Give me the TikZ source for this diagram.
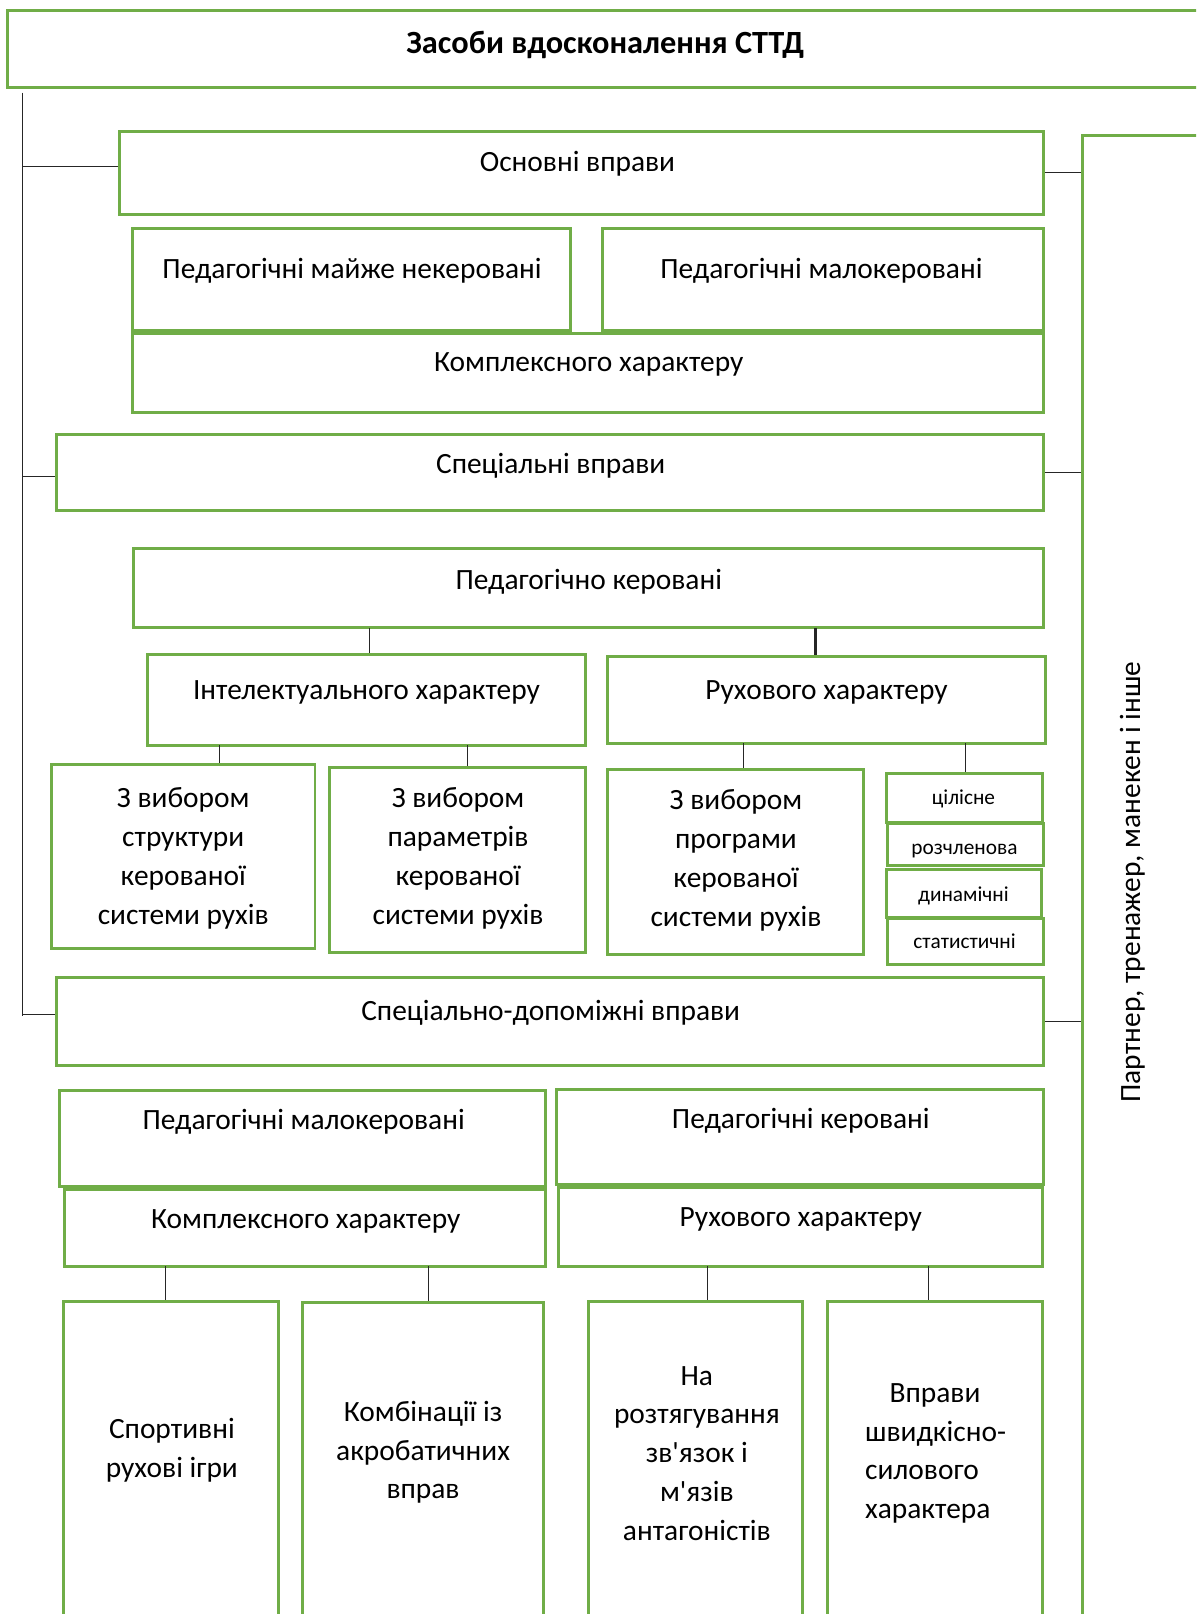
\documentclass[tikz,border=0pt]{standalone}
\usepackage{fontspec}
\setmainfont{Carlito}
\usetikzlibrary{fit}
\definecolor{grn}{HTML}{70AD47}

\begin{document}
\begin{tikzpicture}[x=0.42pt, y=-0.42pt,
    box/.style={draw=grn, line width=1.2pt, inner sep=0pt},
    txt/.style={font=\fontsize{12}{15.8}\selectfont, align=center, inner sep=0pt, yshift=-0.8pt},
    small/.style={font=\fontsize{8.7}{10}\selectfont, inner sep=0pt, yshift=-0.6pt},
    link/.style={draw=black!85, line width=0.45pt}]

      \useasboundingbox (0,0) rectangle (1162,1568);
      \clip (0,0) rectangle (1162,1568);

      % title and right column
      \node[box, fit={(7,10) (1185,85)}] (title) {};
      \node[txt, font=\fontsize{13.2}{16}\selectfont\bfseries] (title-t) at (588,42) {Засоби вдосконалення СТТД};
      \node[box, fit={(1052,132) (1200,1600)}] (prt) {};
      \node[txt, rotate=90] (prt-t) at (1100,855) {Партнер, тренажер, манекен і інше};

      % basic exercises
      \node[box, fit={(116,128) (1014,208)}] (osn) {};
      \node[txt] (osn-t) at (561,157) {Основні вправи};
      \node[box, fit={(129,222) (554,321)}] (pmn) {};
      \node[txt] (pmn-t) at (342,261) {Педагогічні майже некеровані};
      \node[box, fit={(585,222) (1014,321)}] (pmk) {};
      \node[txt] (pmk-t) at (798,261) {Педагогічні малокеровані};
      \node[box, fit={(129,324) (1014,401)}] (kom1) {};
      \node[txt] (kom1-t) at (572,352) {Комплексного характеру};

      % special exercises
      \node[box, fit={(55,422) (1014,496)}] (spec) {};
      \node[txt] (spec-t) at (535,451) {Спеціальні вправи};
      \node[box, fit={(130,533) (1014,610)}] (pk) {};
      \node[txt] (pk-t) at (572,563) {Педагогічно керовані};
      \node[box, fit={(143,636) (569,724)}] (int) {};
      \node[txt] (int-t) at (356,671) {Інтелектуального характеру};
      \node[box, fit={(590,638) (1016,722)}] (ruh) {};
      \node[txt] (ruh-t) at (803,671) {Рухового характеру};

      \node[box, fit={(50,743) (306,921)}] (vyb1) {};
      \node[txt] (vyb1-t) at (178,832) {З вибором\\структури\\керованої\\системи рухів};
      \node[box, fit={(320,746) (569,925)}] (vyb2) {};
      \node[txt] (vyb2-t) at (445,832) {З вибором\\параметрів\\керованої\\системи рухів};
      \node[box, fit={(590,748) (839,927)}] (vyb3) {};
      \node[txt] (vyb3-t) at (715,834) {З вибором\\програми\\керованої\\системи рухів};

      \node[box, fit={(861,751) (1013,799)}] (cil) {};
      \node[small] (cil-t) at (936,775) {цілісне};
      \node[box, fit={(862,800) (1014,841)}] (roz) {};
      \node[small] (roz-t) at (937,825) {розчленова};
      \node[box, fit={(861,845) (1012,891)}] (dyn) {};
      \node[small] (dyn-t) at (936,869) {динамічні};
      \node[box, fit={(862,892) (1014,937)}] (stat) {};
      \node[small] (stat-t) at (937,913) {статистичні};

      % special auxiliary exercises
      \node[box, fit={(55,950) (1014,1035)}] (sdv) {};
      \node[txt] (sdv-t) at (535,982) {Спеціально-допоміжні вправи};
      \node[box, fit={(58,1059) (530,1153)}] (pmk2) {};
      \node[txt] (pmk2-t) at (295,1088) {Педагогічні малокеровані};
      \node[box, fit={(541,1058) (1014,1151)}] (pk2) {};
      \node[txt] (pk2-t) at (778,1087) {Педагогічні керовані};
      \node[box, fit={(63,1156) (530,1230)}] (kom2) {};
      \node[txt] (kom2-t) at (297,1185) {Комплексного характеру};
      \node[box, fit={(543,1154) (1013,1230)}] (ruh2) {};
      \node[txt] (ruh2-t) at (778,1183) {Рухового характеру};

      \node[box, fit={(62,1264) (271,1600)}] (sport) {};
      \node[txt] (sport-t) at (167,1407) {Спортивні\\рухові ігри};
      \node[box, fit={(294,1265) (528,1600)}] (komb) {};
      \node[txt] (komb-t) at (411,1409) {Комбінації із\\акробатичних\\вправ};
      \node[box, fit={(572,1264) (780,1600)}] (rozt) {};
      \node[txt] (rozt-t) at (677,1410) {На\\розтягування\\зв\textquotesingle язок і\\м\textquotesingle язів\\антагоністів};
      \node[box, fit={(804,1264) (1013,1600)}] (shv) {};
      \node[txt, align=left, anchor=west] (shv-t) at (840,1410) {\hspace*{10pt}Вправи\\швидкісно-\\силового\\характера};

      % connectors
      \coordinate (trk-top) at (22,90);
      \coordinate (trk-bot) at (22,987);
      \draw[link] (trk-top) -- (trk-bot);
      \draw[link] ([yshift=2.5pt]trk-top |- osn.west) -- ([yshift=2.5pt]osn.west);
      \draw[link] ([yshift=-1.7pt]trk-top |- spec.west) -- ([yshift=-1.7pt]spec.west);
      \draw[link] ([yshift=3pt]trk-top |- sdv.west) -- ([yshift=3pt]sdv.west);

      \draw[link] (osn.east) -- (osn.east -| prt.west);
      \draw[link] (spec.east) -- (spec.east -| prt.west);
      \draw[link] (sdv.east) -- (sdv.east -| prt.west);

      \coordinate (j1) at (359,610);
      \coordinate (j2) at (792,610);
      \coordinate (j3) at (213,724);
      \coordinate (j4) at (454,724);
      \coordinate (j5) at (722,722);
      \coordinate (j6) at (938,722);
      \draw[link] (j1) -- (j1 |- int.north);
      \draw[link, line width=1.3pt] (j2) -- (j2 |- ruh.north);
      \draw[link] (j3) -- (j3 |- vyb1.north);
      \draw[link] (j4) -- (j4 |- vyb2.north);
      \draw[link] (j5) -- (j5 |- vyb3.north);
      \draw[link] (j6) -- (j6 |- cil.north);

      \coordinate (k1) at (161,1230);
      \coordinate (k2) at (416,1230);
      \coordinate (k3) at (687,1230);
      \coordinate (k4) at (902,1230);
      \draw[link] (k1) -- (k1 |- sport.north);
      \draw[link] (k2) -- (k2 |- komb.north);
      \draw[link] (k3) -- (k3 |- rozt.north);
      \draw[link] (k4) -- (k4 |- shv.north);
    \end{tikzpicture}
\end{document}
